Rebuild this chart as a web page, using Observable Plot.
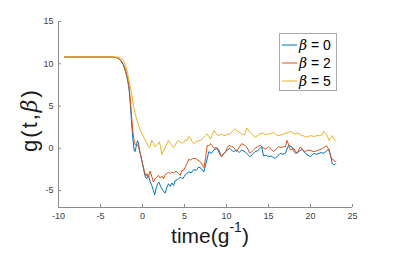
<!DOCTYPE html>
<html>
<head>
<meta charset="utf-8">
<script src="https://cdn.jsdelivr.net/npm/d3@7"></script>
<script src="https://cdn.jsdelivr.net/npm/@observablehq/plot@0.6"></script>
<style>
  body { margin: 0; background: white; }
  #chart { position: relative; width: 407px; height: 253px; }
</style>
</head>
<body>
<div id="chart"></div>
<script>
const xTicks = [-10, -5, 0, 5, 10, 15, 20, 25];
const yTicks = [-5, 0, 5, 10, 15];
const xDomain = [-10, 25];
const yDomain = [-7, 15];
const seriesNames = ["β = 0", "β = 2", "β = 5"];
const seriesColors = ["#0072BD", "#D95319", "#EDB120"];

const t0 = [-9.3,-3.5,-3.0,-2.6,-2.3,-2.0,-1.8,-1.6,-1.45,-1.3,-1.15,-1.0,-0.9,-0.75,-0.6,-0.5,-0.35,-0.2,0.0,0.2,0.35,0.5,0.7,0.9,1.1,1.3,1.45,1.6,1.8,1.95,2.2,2.45,2.7,2.9,3.1,3.3,3.5,3.7,3.9,4.2,4.5,4.8,5.1,5.5,5.8,6.1,6.4,6.7,7.0,7.3,7.6,7.9,8.2,8.5,8.9,9.1,9.4,9.7,10.1,10.4,10.8,11.2,11.5,11.8,12.2,12.5,12.8,13.1,13.4,13.7,14.0,14.2,14.4,14.7,15.0,15.3,15.6,15.8,16.1,16.4,16.7,17.0,17.2,17.4,17.8,18.0,18.2,18.6,19.0,19.2,19.4,19.7,20.0,20.2,20.4,20.7,21.0,21.3,21.6,21.9,22.2,22.4,22.6,22.8,23.0];
const g0 = [10.8,10.8,10.7,10.4,9.9,9.0,8.2,7.0,5.2,3.0,1.2,-0.2,-0.4,0.2,0.9,0.7,-0.2,-0.9,-1.8,-2.8,-3.4,-3.6,-3.2,-3.9,-4.4,-5.0,-5.5,-4.8,-4.2,-4.0,-4.6,-5.0,-5.3,-4.6,-4.2,-4.5,-4.1,-4.4,-3.8,-3.7,-3.4,-3.6,-3.1,-2.8,-2.9,-2.5,-2.6,-2.2,-2.4,-2.8,-1.6,-0.4,-0.6,-0.2,0.0,-0.5,-1.0,-0.6,-0.2,0.0,-0.4,-0.2,-0.5,-0.2,-0.4,-0.7,-1.0,-0.7,-0.4,-0.3,0.0,0.2,-0.9,-0.8,-1.0,-0.9,-1.1,-1.2,-0.9,-0.6,-0.7,-0.6,-0.1,0.35,0.16,-0.3,-0.6,-0.4,-0.1,-0.3,-0.6,-0.8,-1.0,-0.8,-0.6,-0.7,-0.6,-0.5,-0.6,-0.3,-0.1,-0.9,-1.8,-2.0,-1.8];

const t2 = [-9.3,-3.5,-3.0,-2.6,-2.3,-2.0,-1.8,-1.6,-1.45,-1.3,-1.15,-1.0,-0.85,-0.7,-0.55,-0.4,-0.2,0.0,0.2,0.4,0.53,0.7,0.9,1.1,1.3,1.5,1.7,1.9,2.1,2.3,2.5,2.7,2.9,3.1,3.3,3.5,3.7,4.0,4.3,4.5,4.7,4.9,5.1,5.3,5.5,5.7,6.0,6.3,6.6,6.9,7.1,7.3,7.5,7.7,7.9,8.1,8.3,8.5,8.8,9.1,9.4,9.6,9.9,10.1,10.3,10.6,10.8,11.0,11.2,11.5,11.8,12.1,12.4,12.6,12.8,13.1,13.4,13.7,14.0,14.3,14.6,14.8,15.0,15.3,15.6,15.9,16.2,16.5,16.8,17.0,17.2,17.4,17.6,18.0,18.2,18.4,18.6,18.8,19.0,19.2,19.5,19.8,20.1,20.4,20.7,21.0,21.3,21.7,21.9,22.1,22.3,22.5,22.7,22.9,23.0];
const g2 = [10.8,10.8,10.7,10.45,10.0,9.2,8.4,7.3,5.8,3.8,2.0,0.9,0.4,0.3,0.4,-0.1,-0.9,-1.8,-2.6,-3.3,-3.0,-3.4,-2.7,-3.3,-4.0,-3.6,-3.4,-3.2,-3.5,-3.3,-3.6,-3.1,-3.0,-2.8,-3.0,-2.8,-2.9,-2.7,-3.0,-3.2,-2.6,-2.6,-2.2,-1.8,-1.3,-1.4,-1.2,-1.2,-1.4,-1.6,-1.9,-2.3,-1.2,0.35,0.3,0.55,0.3,0.0,0.1,-0.2,-1.0,-0.7,-0.4,0.1,0.35,0.2,0.16,-0.1,-0.4,0.1,0.55,0.4,0.16,-0.2,-0.6,-0.3,0.0,0.2,0.35,0.1,-0.1,0.0,0.16,-0.1,-0.4,-0.1,0.16,0.1,0.2,0.16,0.94,0.4,-0.2,0.0,-0.3,-0.6,-0.2,0.16,-0.1,-0.4,-0.3,-0.2,-0.3,-0.4,-0.3,-0.2,-0.1,0.16,0.3,0.0,-0.6,-1.2,-1.3,-1.6,-1.5];

const t5 = [-9.3,-3.0,-2.6,-2.3,-2.0,-1.8,-1.6,-1.4,-1.25,-1.1,-0.9,-0.65,-0.4,-0.2,0.0,0.2,0.4,0.53,0.7,0.85,1.0,1.1,1.3,1.5,1.7,1.85,2.0,2.15,2.3,2.5,2.7,2.9,3.1,3.3,3.5,3.7,3.9,4.1,4.3,4.5,4.7,4.9,5.1,5.3,5.5,5.7,5.9,6.1,6.4,6.7,6.9,7.2,7.5,7.7,7.9,8.1,8.3,8.5,8.8,9.1,9.4,9.7,10.0,10.4,10.7,11.0,11.3,11.6,11.9,12.2,12.4,12.8,13.1,13.4,13.7,14.0,14.3,14.6,14.9,15.2,15.4,15.6,15.9,16.2,16.5,16.8,17.1,17.4,17.6,17.9,18.2,18.5,18.8,19.1,19.4,19.7,20.0,20.4,20.8,21.1,21.4,21.6,21.8,22.0,22.2,22.4,22.6,22.8,23.0];
const g5 = [10.8,10.8,10.7,10.4,9.8,9.0,8.0,7.0,6.2,5.2,4.2,3.3,2.5,2.0,1.6,1.2,0.8,0.55,0.2,0.1,0.5,0.94,0.6,0.2,0.4,0.6,0.74,0.2,-0.74,-0.3,0.1,0.5,0.94,0.6,0.3,0.1,0.4,0.8,0.94,0.74,0.6,0.7,1.0,0.94,1.4,1.2,0.8,0.55,0.8,0.9,0.94,1.2,1.5,1.7,1.4,1.1,1.6,2.1,1.7,1.5,1.7,1.5,1.6,1.7,2.0,2.3,2.0,1.9,1.6,1.7,2.4,1.9,1.6,1.3,1.5,1.7,1.8,1.6,1.7,1.7,1.8,1.9,1.6,1.5,1.6,1.7,1.8,1.9,2.0,1.8,1.7,1.8,1.6,1.5,1.3,1.4,1.5,1.4,1.5,1.5,1.6,2.0,1.8,1.5,0.94,1.2,1.5,1.1,0.94];

const seriesT = [t0, t2, t5];
const seriesG = [g0, g2, g5];
const data = [];
seriesNames.forEach((name, i) => {
  seriesT[i].forEach((t, j) => data.push({ t, g: seriesG[i][j], s: name }));
});

const W = 407, H = 253, mL = 58, mR = 55, mT = 21, mB = 46;
const axisColor = "#8c8c8c";
const labelColor = "#404040";
const fmt = d => String(d);

const chart = Plot.plot({
  width: W, height: H,
  marginLeft: mL, marginRight: mR, marginTop: mT, marginBottom: mB,
  style: { fontFamily: "'Liberation Sans', Arial, Helvetica, sans-serif", fontSize: "9px", color: labelColor, background: "white" },
  x: { domain: xDomain },
  y: { domain: yDomain },
  color: { domain: seriesNames, range: seriesColors },
  marks: [
    Plot.axisX(xTicks, { tickSize: 0, tickPadding: 5, tickFormat: fmt, label: null, fill: labelColor }),
    Plot.axisY(yTicks, { tickSize: 0, tickPadding: 5, tickFormat: fmt, label: null, fill: labelColor }),
    Plot.tickX(xTicks, { x: d => d, stroke: axisColor, insetTop: H - mT - mB - 3 }),
    Plot.tickY(yTicks, { y: d => d, stroke: axisColor, insetRight: W - mL - mR - 3 }),
    Plot.ruleY([yDomain[0]], { stroke: axisColor }),
    Plot.ruleX([xDomain[0]], { stroke: axisColor }),
    Plot.line(data, { x: "t", y: "g", stroke: "s", strokeWidth: 1 })
  ]
});
document.getElementById("chart").appendChild(chart);

const svg = d3.select(chart);
const font = "'Liberation Sans', Arial, Helvetica, sans-serif";

// x label: time(g^-1)
const xl = svg.append("text")
  .attr("x", 210).attr("y", 243)
  .attr("text-anchor", "middle")
  .attr("font-family", font).attr("font-size", 21).attr("fill", "#1a1a1a");
xl.append("tspan").text("time(g");
xl.append("tspan").attr("font-size", 14).attr("dy", -11).text("-1");
xl.append("tspan").attr("dy", 11).text(")");

// y label: g(t,β)
const yl = svg.append("text")
  .attr("transform", "translate(37,120) rotate(-90)")
  .attr("text-anchor", "middle")
  .attr("letter-spacing", 2)
  .attr("font-family", font).attr("font-size", 22).attr("fill", "#1a1a1a");
yl.append("tspan").text("g(t,");
yl.append("tspan").attr("font-style", "italic").attr("font-family", "'DejaVu Serif', serif").text("β");
yl.append("tspan").text(")");

// legend
const lg = svg.append("g");
lg.append("rect").attr("x", 279.5).attr("y", 33.5).attr("width", 57).attr("height", 57)
  .attr("fill", "white").attr("stroke", "#aaaaaa").attr("stroke-width", 1);
const rowY = [45, 63, 81];
seriesNames.forEach((name, i) => {
  lg.append("line").attr("x1", 282).attr("x2", 297).attr("y1", rowY[i]).attr("y2", rowY[i])
    .attr("stroke", seriesColors[i]).attr("stroke-width", 1);
  const tx = lg.append("text").attr("x", 299).attr("y", rowY[i] + 5)
    .attr("text-anchor", "start")
    .attr("font-family", font).attr("font-size", 14).attr("fill", "#000");
  const parts = name.split(" ");
  tx.append("tspan").attr("font-style", "italic").attr("font-family", "'DejaVu Serif', serif").text(parts[0]);
  tx.append("tspan").text(" " + parts.slice(1).join(" "));
});
</script>
</body>
</html>
